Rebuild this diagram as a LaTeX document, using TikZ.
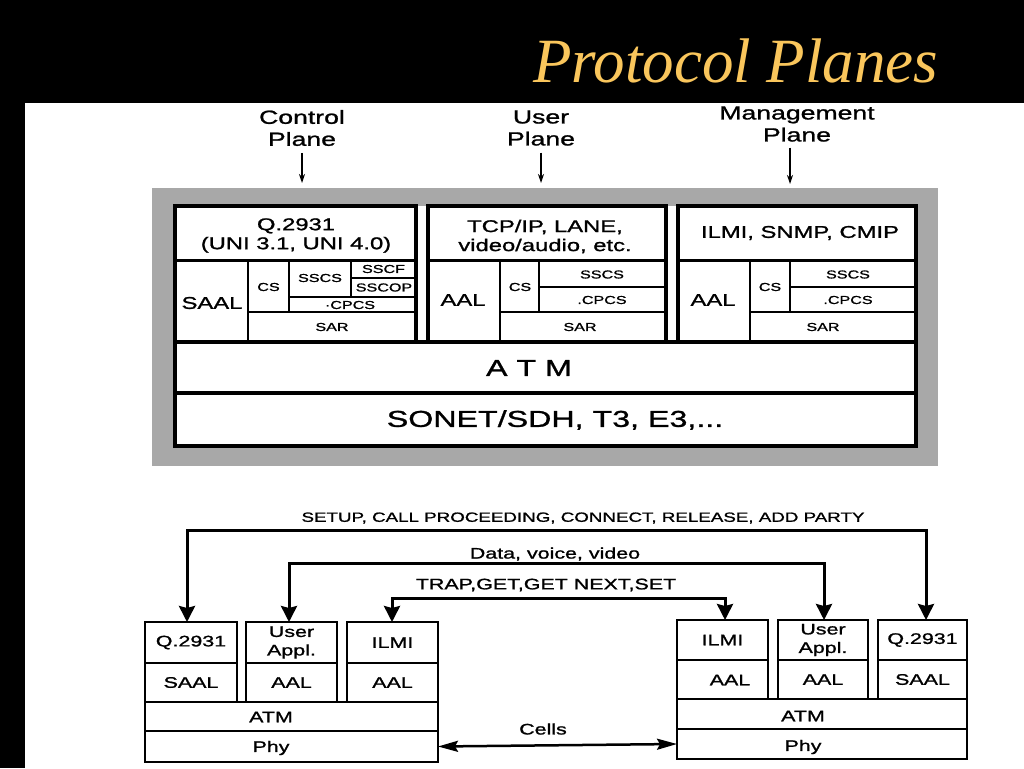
\documentclass[tikz,border=0pt]{standalone}
\usepackage{fontspec}
\setmainfont{Liberation Sans}[FakeStretch=1.4,FakeBold=1.2]
\newfontfamily\titlefont{Liberation Serif}
\usetikzlibrary{arrows.meta}
\definecolor{gold}{RGB}{250,198,92}
\definecolor{band}{RGB}{168,168,168}
\begin{document}
\begin{tikzpicture}[x=1pt,y=-1pt,
  every node/.style={inner sep=0pt, outer sep=0pt},
  txt/.style={text=black, align=center},
  hdr/.style={txt, font=\fontsize{17}{19}\selectfont},
  sm/.style={txt, font=\fontsize{11.5}{13}\selectfont},
  layer/.style={txt, font=\fontsize{23}{26}\selectfont},
  plane/.style={txt, font=\fontsize{19}{22}\selectfont},
  low/.style={txt, font=\fontsize{15.3}{18.5}\selectfont},
  msg/.style={txt, font=\fontsize{13.4}{15}\selectfont},
  thickline/.style={line width=4pt},
  midline/.style={line width=3pt},
  thinline/.style={line width=1.4pt},
  lbox/.style={draw, line width=1.3pt, low},
  planearrow/.style={line width=1.2pt, arrows={-Stealth[length=9pt,width=6pt]}},
  bigarrow/.style={line width=3pt, arrows={Stealth[width=16pt,length=16pt,inset=2pt]-Stealth[width=16pt,length=16pt,inset=2pt]}},
  cellarrow/.style={line width=2.5pt, arrows={Stealth[width=11pt,length=20pt,inset=3pt]-Stealth[width=11pt,length=20pt,inset=3pt]}}
]
\useasboundingbox (0,0) rectangle (1024,768);
\fill[black] (0,0) rectangle (1024,768);
\fill[white] (25,103) rectangle (1024,768);

% title
\node[anchor=base west, text=gold, font=\titlefont\itshape\fontsize{63}{72}\selectfont] (title) at (533,82) {Protocol Planes};

% plane labels
\node[plane] (cpl) at (302,128) {Control\\Plane};
\node[plane] (upl) at (541,128) {User\\Plane};
\node[plane] (mpl) at (797,124) {Management\\Plane};
\coordinate (cend) at (302,183);
\coordinate (uend) at (541,183);
\coordinate (mend) at (790,184);
\draw[planearrow, shorten <=7pt] (cpl.south) -- (cend);
\draw[planearrow, shorten <=7pt] (upl.south) -- (uend);
\draw[planearrow, shorten <=6pt] (mpl.south -| mend) -- (mend);

% upper stack
\fill[band] (152,188) rectangle (938,466);
\fill[white] (175,206) rectangle (916,446);
\draw[thickline] (175,206) rectangle (416,342);
\draw[thickline] (428,206) rectangle (666,342);
\draw[thickline] (678,206) rectangle (916,342);
\draw[thickline] (175,342) rectangle (916,393);
\draw[thickline] (175,393) rectangle (916,446);
\draw[midline] (175,260) -- (416,260);
\draw[midline] (428,260) -- (666,260);
\draw[midline] (678,260) -- (916,260);
% control plane cells
\draw[thinline] (248,260) -- (248,342);
\draw[thinline] (289,260) -- (289,312);
\draw[thinline] (351,260) -- (351,297);
\draw[thinline] (351,278) -- (416,278);
\draw[thinline] (289,297) -- (416,297);
\draw[thinline] (248,312) -- (416,312);
% user plane cells
\draw[thinline] (500,260) -- (500,342);
\draw[thinline] (539,260) -- (539,312);
\draw[thinline] (539,287) -- (666,287);
\draw[thinline] (500,312) -- (666,312);
% management plane cells
\draw[thinline] (750,260) -- (750,342);
\draw[thinline] (790,260) -- (790,312);
\draw[thinline] (790,287) -- (916,287);
\draw[thinline] (750,312) -- (916,312);

\node[hdr] (cq) at (296,235.5) {Q.2931\\(UNI 3.1, UNI 4.0)};
\node[hdr] (csaal) at (212,303) {SAAL};
\node[sm] (ccs) at (268.5,287) {CS};
\node[sm] (csscs) at (320,278) {SSCS};
\node[sm] (csscf) at (383.5,269) {SSCF};
\node[sm] (csscop) at (384,287.5) {SSCOP};
\node[sm] (ccpcs) at (350,305) {·CPCS};
\node[sm] (csar) at (332,327) {SAR};

\node[hdr] (utcp) at (545,236.5) {TCP/IP, LANE,\\video/audio, etc.};
\node[hdr] (uaal) at (463,300) {AAL};
\node[sm] (ucs) at (520,287) {CS};
\node[sm] (usscs) at (602,274.5) {SSCS};
\node[sm] (ucpcs) at (602,300) {.CPCS};
\node[sm] (usar) at (580,327) {SAR};

\node[hdr] (milmi) at (800,233) {ILMI, SNMP, CMIP};
\node[hdr] (maal) at (713,300) {AAL};
\node[sm] (mcs) at (770,287) {CS};
\node[sm] (msscs) at (848,274.5) {SSCS};
\node[sm] (mcpcs) at (848,300) {.CPCS};
\node[sm] (msar) at (823,327) {SAR};

\node[layer] (atm) at (529,368) {A T M};
\node[layer] (sonet) at (555,420) {SONET/SDH, T3, E3,...};

% lower left stack
\node[lbox, minimum width=92pt, minimum height=41pt] (lq) at (191,642.5) {Q.2931};
\node[lbox, minimum width=92pt, minimum height=39pt] (ls) at (191,682.5) {SAAL};
\node[lbox, minimum width=91pt, minimum height=41pt] (lu) at (291.5,642.5) {User\\Appl.};
\node[lbox, minimum width=91pt, minimum height=39pt] (lua) at (291.5,682.5) {AAL};
\node[lbox, minimum width=91pt, minimum height=41pt] (li) at (392.5,642.5) {ILMI};
\node[lbox, minimum width=91pt, minimum height=39pt] (lia) at (392.5,682.5) {AAL};
\node[lbox, minimum width=293pt, minimum height=29pt] (latm) at (291.5,716.5) {};
\node[low] (latmt) at (271,717) {ATM};
\node[lbox, minimum width=293pt, minimum height=31pt] (lphy) at (291.5,746.5) {};
\node[low] (lphyt) at (271,748) {Phy};

% lower right stack
\node[lbox, minimum width=91pt, minimum height=40pt] (ri) at (722.5,640) {ILMI};
\node[lbox, minimum width=91pt, minimum height=39pt] (ria) at (722.5,679.5) {};
\node[low] (riat) at (730,680) {AAL};
\node[lbox, minimum width=90pt, minimum height=40pt] (ru) at (823,640) {User\\Appl.};
\node[lbox, minimum width=90pt, minimum height=39pt] (rua) at (823,679.5) {AAL};
\node[lbox, minimum width=89pt, minimum height=40pt] (rq) at (922.5,640) {Q.2931};
\node[lbox, minimum width=89pt, minimum height=39pt] (rs) at (922.5,679.5) {SAAL};
\node[lbox, minimum width=290pt, minimum height=30pt] (ratm) at (822,714) {};
\node[low] (ratmt) at (803,716) {ATM};
\node[lbox, minimum width=290pt, minimum height=30pt] (rphy) at (822,744) {};
\node[low] (rphyt) at (803,747) {Phy};

% message flows
\coordinate (s1) at (560,530);
\coordinate (d1) at (560,563.5);
\coordinate (t1) at (560,598);
\draw[bigarrow] ([xshift=-4pt]lq.north) |- (s1) -| ([xshift=3.5pt]rq.north);
\draw[bigarrow] ([xshift=-2.5pt]lu.north) |- (d1) -| ([xshift=1pt]ru.north);
\draw[bigarrow] ([xshift=-0.5pt]li.north) |- (t1) -| ([xshift=2.5pt]ri.north);
\node[msg] (setup) at (583,518) {SETUP, CALL PROCEEDING, CONNECT, RELEASE, ADD PARTY};
\node[low] (data) at (555,554) {Data, voice, video};
\node[low] (trap) at (546,585) {TRAP,GET,GET NEXT,SET};
\node[low] (cells) at (543,729) {Cells};
\draw[cellarrow] (lphy.east) -- (rphy.west);
\end{tikzpicture}
\end{document}
